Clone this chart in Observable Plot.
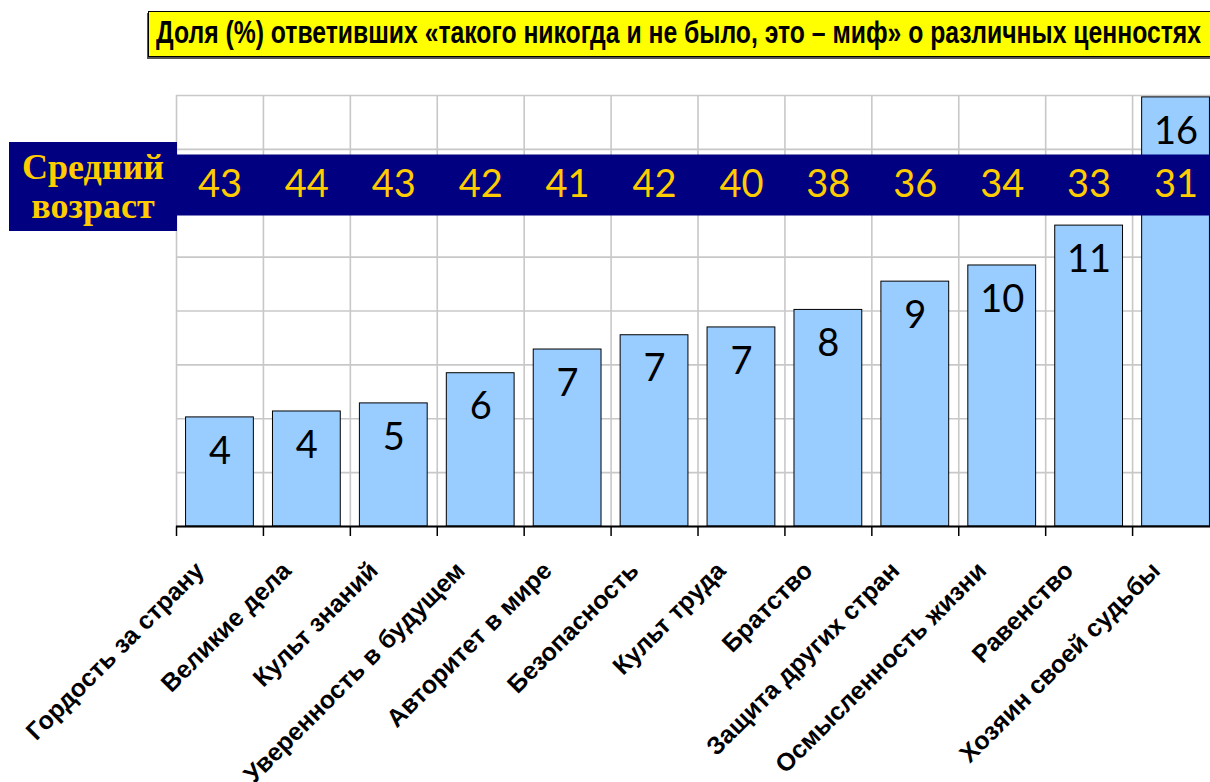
<!DOCTYPE html>
<html>
<head>
<meta charset="utf-8">
<script src="https://cdn.jsdelivr.net/npm/d3@7"></script>
<script src="https://cdn.jsdelivr.net/npm/@observablehq/plot@0.6"></script>
<style>
  html, body { margin: 0; padding: 0; background: #fff; overflow: hidden; }
  #wrap { position: relative; width: 1210px; height: 782px; overflow: hidden; }
  #title {
    position: absolute; left: 148px; top: 11px; width: 1070px; height: 44px;
    background: #FFFF00; border: 1.5px solid #000; box-shadow: -1px 2px 0 #555;
    overflow: hidden;
  }
  #title span {
    position: absolute; left: 7px; top: 3px; white-space: nowrap;
    font-family: "Liberation Sans Narrow", "Liberation Sans", Arial, sans-serif;
    font-weight: bold; font-size: 31px; color: #000; transform-origin: 0 0;
  }
  #agebox {
    position: absolute; left: 9px; top: 142px; width: 168px; height: 89px;
    background: #000080; color: #FFCC00; display: flex; align-items: center; justify-content: center;
    text-align: center; font-family: "Liberation Serif", "Times New Roman", serif; font-weight: bold;
    font-size: 36px; line-height: 39px;
  }
  #chart { position: absolute; left: 0; top: 0; }
  #chart svg { overflow: hidden; }
</style>
</head>
<body>
<div id="wrap">
  <div id="chart"></div>
  <div id="title"><span id="titletext">Доля (%) ответивших «такого никогда и не было, это – миф» о различных ценностях</span></div>
  <div id="agebox"><div>Средний<br>возраст</div></div>
</div>
<script>
// ---- data ----
const categories = [
  "Гордость за страну", "Великие дела", "Культ знаний", "Уверенность в будущем",
  "Авторитет в мире", "Безопасность", "Культ труда", "Братство",
  "Защита других стран", "Осмысленность жизни", "Равенство", "Хозяин своей судьбы"
];
const shares = [4.05, 4.27, 4.57, 5.69, 6.57, 7.10, 7.39, 8.04, 9.09, 9.69, 11.17, 15.93];
const shareLabels = [4, 4, 5, 6, 7, 7, 7, 8, 9, 10, 11, 16];
const ages = [43, 44, 43, 42, 41, 42, 40, 38, 36, 34, 33, 31];
const yTicks = [0, 2, 4, 6, 8, 10, 12, 14, 16];

const rows = categories.map((c, i) => ({cat: c, share: shares[i], label: shareLabels[i], age: ages[i]}));

const numFont = "Lato, 'DejaVu Sans', sans-serif";
const halfStep = -43.45;

const plot = Plot.plot({
  width: 1210,
  height: 782,
  marginTop: 95,
  marginBottom: 256,
  marginLeft: 176,
  marginRight: -9,
  style: {background: "transparent"},
  x: {type: "band", domain: categories, paddingInner: 0.22, paddingOuter: 0.11, round: false, axis: null},
  y: {domain: [0, 16], axis: null},
  marks: [
    Plot.ruleY(yTicks, {stroke: "#c8c8c8", strokeWidth: 1.6}),
    Plot.ruleX(categories, {x: d => d, dx: halfStep, stroke: "#c8c8c8", strokeWidth: 1.6}),
    Plot.barY(rows, {x: "cat", y: "share", fill: "#99CCFF", stroke: "#000", strokeWidth: 1}),
    Plot.text(rows, {x: "cat", y: "share", text: "label", dy: 34, fontSize: 38, fill: "#000",
      fontFamily: numFont}),
    Plot.ruleY([12.68], {stroke: "#000080", strokeWidth: 61}),
    Plot.text(rows, {x: "cat", y: () => 12.68, text: "age", fontSize: 38, fill: "#FFCC00",
      fontFamily: numFont, letterSpacing: 3}),
    Plot.ruleY([0], {stroke: "#000", strokeWidth: 2}),
    Plot.axisX({ticks: categories, tickSize: 10, tickFormat: () => "", label: null, dx: halfStep,
      stroke: "#000", strokeWidth: 1.5}),
    Plot.text(categories, {x: d => d, frameAnchor: "bottom", dx: -20, dy: 40, rotate: -45,
      textAnchor: "end", lineAnchor: "middle", fontSize: 25, fontWeight: "bold",
      fontFamily: "'Liberation Sans', Arial, sans-serif", fill: "#000"})
  ]
});
document.getElementById("chart").appendChild(plot);

// fit title text into its box width
const t = document.getElementById("titletext");
const w = t.getBoundingClientRect().width;
t.style.transform = `scaleX(${1045 / w})`;
</script>
</body>
</html>
